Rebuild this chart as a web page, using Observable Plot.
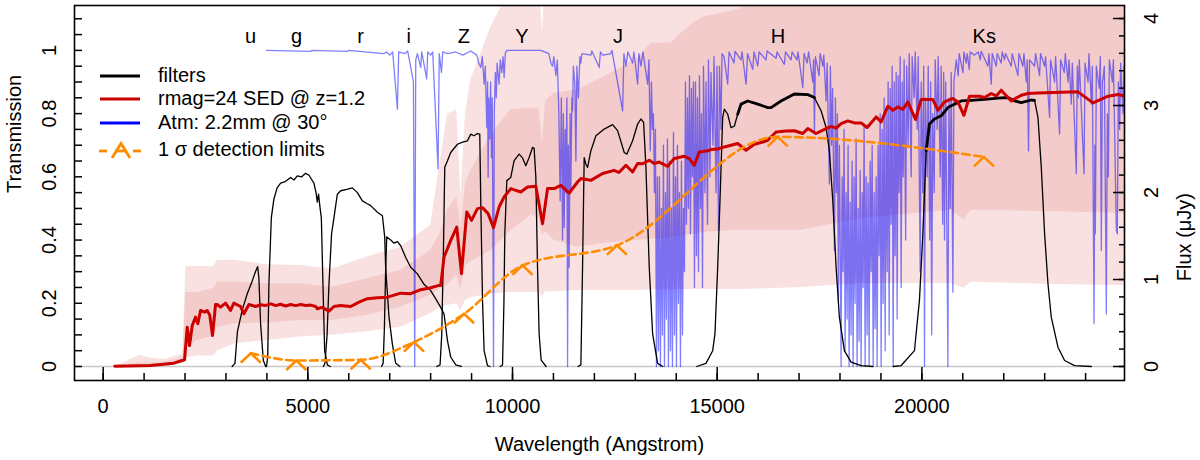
<!DOCTYPE html>
<html><head><meta charset="utf-8">
<script src="https://cdn.jsdelivr.net/npm/d3@7"></script>
<script src="https://cdn.jsdelivr.net/npm/@observablehq/plot@0.6"></script>
<style>
body{margin:0;background:#fff;font-family:"Liberation Sans",Arial,Helvetica,sans-serif;}
#wrap{position:relative;width:1200px;height:460px;overflow:hidden;}
#wrap svg{display:block;}
</style></head><body><div id="wrap"></div>
<script>
// ---------- data ----------
const filterNames = ["u","g","r","i","Z","Y","J","H","Ks"];
const labelWave = [3601,4726,6291,7465,8809,10228,12575,16487,21524];

const uFilter = [[3150,0],[3220,0.01],[3280,0.11],[3400,0.18],[3520,0.23],[3640,0.27],[3720,0.30],[3775,0.316],[3804,0.28],[3846,0.135],[3912,0.02],[3970,0]];
const gFilter = [[3990,0],[4020,0.03],[4049,0.26],[4108,0.47],[4171,0.53],[4250,0.565],[4335,0.58],[4450,0.585],[4580,0.598],[4660,0.59],[4743,0.603],[4850,0.60],[4946,0.611],[5030,0.605],[5100,0.59],[5149,0.58],[5200,0.55],[5232,0.52],[5262,0.545],[5300,0.50],[5330,0.47],[5369,0.26],[5411,0.05],[5477,0.005],[5550,0]];
const rFilter = [[5380,0],[5418,0.01],[5470,0.1],[5516,0.26],[5580,0.42],[5638,0.47],[5721,0.545],[5802,0.556],[5950,0.56],[6088,0.565],[6210,0.55],[6333,0.524],[6450,0.515],[6536,0.509],[6699,0.488],[6822,0.477],[6878,0.41],[6902,0.31],[6983,0.156],[7066,0.07],[7147,0.01],[7250,0]];
const iFilter = [[6800,0],[6840,0.01],[6870,0.12],[6900,0.30],[6927,0.41],[7025,0.40],[7105,0.39],[7188,0.395],[7269,0.382],[7391,0.345],[7513,0.314],[7677,0.293],[7839,0.26],[8002,0.24],[8125,0.214],[8247,0.187],[8328,0.166],[8369,0.124],[8411,0.082],[8491,0.03],[8614,0.005],[8750,0]];
const zFilter = [[8150,0],[8230,0.005],[8271,0.10],[8313,0.37],[8345,0.63],[8411,0.651],[8491,0.677],[8655,0.703],[8780,0.71],[8900,0.714],[8980,0.735],[9060,0.73],[9144,0.737],[9200,0.735],[9225,0.52],[9267,0.21],[9306,0.05],[9389,0.003],[9450,0]];
const yFilter = [[9700,0],[9756,0.005],[9790,0.2],[9812,0.42],[9861,0.588],[9958,0.598],[10039,0.651],[10161,0.672],[10244,0.66],[10325,0.635],[10406,0.661],[10489,0.693],[10528,0.69],[10570,0.598],[10611,0.314],[10650,0.103],[10700,0.02],[10820,0]];
const jFilter = [[11600,0],[11670,0.005],[11711,0.314],[11751,0.661],[11792,0.64],[11834,0.63],[11914,0.682],[12037,0.73],[12240,0.751],[12445,0.765],[12567,0.746],[12729,0.677],[12795,0.672],[12934,0.714],[13056,0.767],[13137,0.783],[13203,0.772],[13259,0.63],[13340,0.314],[13423,0.103],[13545,0.01],[13670,0]];
const hFilter = [[14500,0],[14726,0.01],[14890,0.05],[14946,0.104],[15012,0.314],[15068,0.524],[15134,0.788],[15174,0.814],[15257,0.798],[15337,0.756],[15418,0.76],[15501,0.798],[15582,0.83],[15746,0.84],[15990,0.83],[16235,0.819],[16315,0.819],[16560,0.84],[16885,0.862],[17213,0.86],[17374,0.851],[17538,0.809],[17660,0.756],[17741,0.682],[17824,0.524],[17905,0.314],[17985,0.156],[18107,0.05],[18271,0.014],[18516,0.003],[18800,0]];
const ksFilter = [[19300,0],[19494,0.003],[19819,0.05],[19941,0.21],[20024,0.42],[20105,0.682],[20186,0.767],[20308,0.783],[20472,0.793],[20636,0.819],[20797,0.83],[20960,0.84],[21205,0.842],[21531,0.845],[21858,0.849],[22103,0.851],[22264,0.84],[22428,0.835],[22672,0.843],[22753,0.842],[22836,0.788],[22917,0.63],[22998,0.42],[23081,0.261],[23161,0.156],[23325,0.061],[23487,0.019],[23731,0.003],[24140,0]];

// SED (wavelength in Angstrom, flux in microJansky)
const sedSpectrum = [[285,0.003],[1156,0.012],[1726,0.038],[1988,0.077],[2054,0.452],[2110,0.242],[2176,0.472],[2257,0.567],[2313,0.491],[2379,0.644],[2477,0.625],[2543,0.644],[2606,0.587],[2672,0.357],[2746,0.713],[2787,0.713],[2868,0.683],[2990,0.729],[3112,0.644],[3193,0.728],[3357,0.690],[3438,0.606],[3560,0.713],[3724,0.690],[3850,0.71],[3968,0.702],[4100,0.72],[4213,0.70],[4330,0.715],[4457,0.696],[4580,0.712],[4702,0.70],[4830,0.713],[4946,0.702],[5070,0.706],[5191,0.690],[5232,0.664],[5350,0.68],[5516,0.636],[5638,0.690],[5800,0.70],[6046,0.690],[6250,0.74],[6455,0.779],[6700,0.79],[6944,0.797],[7269,0.843],[7514,0.837],[7758,0.883],[8002,0.906],[8205,0.932],[8247,0.932],[8328,1.258],[8491,1.450],[8638,1.603],[8753,1.067],[8883,1.776],[8998,1.680],[9144,1.815],[9267,1.826],[9404,1.757],[9536,1.596],[9672,1.833],[9795,1.948],[9958,2.045],[10081,2.025],[10203,2.006],[10367,2.063],[10570,2.071],[10734,1.642],[10856,2.045],[11017,2.045],[11181,2.083],[11384,1.994],[11589,2.121],[11670,2.160],[11915,2.140],[12201,2.218],[12484,2.255],[12599,2.23],[12770,2.313],[12934,2.236],[13056,2.333],[13178,2.33],[13340,2.371],[13462,2.333],[13584,2.35],[13790,2.301],[13951,2.390],[14196,2.417],[14318,2.39],[14440,2.313],[14562,2.466],[14768,2.48],[14849,2.494],[15012,2.50],[15174,2.524],[15337,2.543],[15501,2.563],[15704,2.486],[15907,2.555],[16113,2.581],[16235,2.601],[16438,2.696],[16682,2.708],[16885,2.71],[17091,2.678],[17213,2.735],[17416,2.678],[17660,2.735],[17783,2.76],[17905,2.74],[18027,2.793],[18191,2.823],[18352,2.80],[18516,2.8],[18663,2.747],[18883,2.869],[19005,2.811],[19169,2.992],[19291,2.946],[19413,2.984],[19536,2.954],[19658,3.041],[19844,2.839],[19983,3.069],[20147,3.07],[20269,3.069],[20391,2.946],[20553,3.041],[20758,3.081],[20880,3.041],[21027,2.888],[21164,3.107],[21408,3.107],[21531,3.092],[21695,3.138],[21817,3.11],[21939,3.176],[22183,3.053],[22428,3.118],[22591,3.138],[22836,3.145],[23814,3.157],[24181,3.030],[24548,3.107],[24792,3.127],[24954,3.107],[25100,3.11]];

// SED uncertainty bands (microJansky)
const bandWave = [250,500,700,900,1100,1500,1950,2020,2300,2700,2800,3200,4000,4800,5600,6450,7270,8000,8250,8410,8640,8740,8850,8980,9470,9960,10450,10650,10730,10810,11010,11590,12240,13060,13380,13870,14120,14430,14680,15500,16000,17050,18520,20720,21030,21200,23160,25000];
const outerLo = [0,0,0,0,0.005,0.01,0.03,0.10,0.12,0.12,0.18,0.26,0.30,0.34,0.36,0.40,0.45,0.61,0.68,0.70,0.72,0.64,0.76,0.79,0.83,0.85,0.85,0.85,0.80,0.86,0.86,0.875,0.875,0.875,0.88,0.88,0.885,0.885,0.886,0.886,0.89,0.909,0.955,0.955,0.90,0.967,0.944,0.932];
const innerLo = [0,0,0,0.005,0.01,0.02,0.05,0.20,0.30,0.35,0.45,0.49,0.50,0.53,0.53,0.59,0.68,0.82,0.90,0.93,1.05,0.875,1.15,1.20,1.33,1.56,1.74,1.70,1.51,1.55,1.45,1.37,1.415,1.45,1.46,1.48,1.50,1.52,1.54,1.565,1.565,1.565,1.70,1.795,1.68,1.795,1.78,1.76];
const innerUp = [0.005,0.02,0.03,0.04,0.04,0.05,0.10,0.85,0.85,0.90,0.97,0.97,0.95,0.95,0.91,1.01,1.105,1.33,1.55,1.80,1.95,1.60,2.10,2.25,2.66,2.95,2.97,2.97,2.57,3.05,3.14,3.18,3.33,3.54,3.72,3.72,3.83,3.95,4.02,4.10,4.22,4.4,4.5,4.6,4.6,4.6,4.6,4.6];
const outerUp = [0.01,0.04,0.09,0.13,0.10,0.08,0.14,1.15,1.15,1.15,1.22,1.22,1.17,1.16,1.12,1.26,1.37,1.62,2.4,2.9,2.95,1.95,2.9,3.29,3.9,4.35,4.5,4.5,3.83,4.5,4.5,4.6,4.7,4.8,4.9,5.0,5.0,5.1,5.1,5.2,5.2,5.3,5.4,5.5,5.5,5.5,5.5,5.5];

// 1 sigma detection limits (microJansky)
const detWave = [3606,4719,6291,7594,8817,10245,12550,16479,21516];
const detFlux = [0.153,0.069,0.077,0.280,0.606,1.162,1.392,2.639,2.409];

// Atmospheric transmission
const atmSpectrum = [[3990,1.0],[5069,0.997],[5093,1.0],[5973,0.997],[5998,1.0],[6853,0.99],[6927,0.995],[7000,0.985],[7073,0.995],[7188,0.814],[7220,0.995],[7367,0.99],[7440,0.998],[7580,0.9],[7611,0.0],[7636,0.97],[7677,0.99],[7758,0.946],[7782,0.995],[7904,0.91],[7929,0.995],[8002,0.985],[8051,0.995],[8181,0.625],[8210,0.99],[8264,0.93],[8296,0.995],[8418,0.99],[8614,0.995],[8785,0.985],[8980,0.998],[9127,0.985],[9176,0.96],[9225,0.946],[9262,0.98],[9306,0.893],[9335,0.95],[9372,0.756],[9391,0.9],[9404,0.598],[9421,0.85],[9445,0.72],[9465,0.9],[9487,0.661],[9506,0.85],[9536,0.0],[9555,0.8],[9580,0.93],[9604,0.85],[9624,0.96],[9672,0.893],[9702,0.97],[9738,0.93],[9770,0.98],[9795,0.914],[9824,0.99],[9861,1.0],[10692,1.0],[10888,0.99],[10937,0.96],[10978,0.95],[11010,0.98],[11059,0.92],[11095,0.97],[11132,0.8],[11164,0.524],[11193,0.85],[11223,0.4],[11242,0.8],[11262,0.44],[11286,0.75],[11303,0.55],[11328,0.85],[11345,0.0],[11364,0.7],[11384,0.314],[11408,0.8],[11425,0.55],[11450,0.85],[11467,0.809],[11487,0.95],[11523,0.893],[11548,0.65],[11572,0.95],[11609,0.85],[11646,0.98],[11670,0.96],[11695,0.99],[11915,0.985],[11939,0.998],[12118,0.946],[12147,0.995],[12208,0.985],[12404,0.99],[12428,1.0],[12690,0.809],[12721,0.99],[12770,0.95],[12819,0.995],[12934,0.96],[12966,0.995],[13056,0.893],[13088,0.99],[13137,0.95],[13186,0.995],[13301,0.893],[13333,0.97],[13365,0.682],[13394,0.9],[13418,0.75],[13443,0.8],[13467,0.55],[13492,0.75],[13516,0.0],[13540,0.6],[13565,0.05],[13589,0.6],[13614,0.0],[13638,0.5],[13663,0.1],[13687,0.7],[13712,0.0],[13736,0.55],[13760,0.15],[13785,0.72],[13809,0.0],[13834,0.65],[13858,0.05],[13883,0.5],[13907,0.0],[13932,0.74],[13956,0.1],[13981,0.6],[14005,0.0],[14029,0.7],[14054,0.2],[14078,0.55],[14103,0.0],[14127,0.65],[14152,0.1],[14176,0.5],[14201,0.3],[14225,0.9],[14249,0.45],[14274,0.85],[14298,0.5],[14323,0.92],[14347,0.42],[14372,0.88],[14396,0.6],[14421,0.9],[14445,0.25],[14470,0.9],[14494,0.35],[14518,0.85],[14543,0.3],[14567,0.92],[14592,0.5],[14616,0.8],[14641,0.25],[14665,0.95],[14701,0.55],[14726,0.9],[14763,0.45],[14787,0.97],[14824,0.6],[14848,0.93],[14897,0.7],[14922,0.98],[14971,0.55],[14995,0.95],[15032,0.43],[15056,0.95],[15093,0.75],[15118,0.99],[15166,0.98],[15257,0.893],[15289,0.995],[15411,0.96],[15436,0.997],[15582,0.97],[15607,0.995],[15705,0.893],[15741,0.99],[15868,0.94],[15900,0.995],[15990,0.95],[16022,0.995],[16193,0.97],[16218,0.998],[16438,0.975],[16462,0.995],[16641,0.956],[16670,0.995],[16804,0.97],[16829,0.995],[16951,0.97],[16975,0.995],[17091,0.882],[17123,0.99],[17196,0.96],[17233,0.995],[17335,0.9],[17355,0.97],[17375,0.735],[17399,0.98],[17489,0.92],[17514,0.99],[17580,0.95],[17604,0.985],[17660,0.84],[17685,0.96],[17741,0.577],[17765,0.95],[17795,0.7],[17819,0.88],[17863,0.367],[17888,0.85],[17912,0.55],[17937,0.8],[17961,0.21],[17985,0.7],[18002,0.45],[18027,0.0],[18051,0.6],[18076,0.3],[18100,0.75],[18125,0.05],[18149,0.55],[18174,0.15],[18198,0.7],[18223,0.0],[18247,0.52],[18271,0.1],[18296,0.65],[18320,0.0],[18345,0.6],[18369,0.2],[18394,0.72],[18418,0.0],[18443,0.5],[18467,0.08],[18492,0.62],[18516,0.0],[18541,0.55],[18565,0.25],[18589,0.76],[18614,0.0],[18638,0.6],[18663,0.1],[18687,0.58],[18712,0.0],[18736,0.65],[18761,0.3],[18785,0.7],[18810,0.0],[18834,0.55],[18858,0.12],[18883,0.6],[18907,0.0],[18932,0.7],[18956,0.35],[18981,0.8],[19005,0.0],[19030,0.75],[19054,0.2],[19078,0.85],[19103,0.05],[19127,0.8],[19152,0.3],[19176,0.9],[19201,0.1],[19225,0.88],[19250,0.45],[19274,0.95],[19299,0.0],[19323,0.9],[19347,0.35],[19372,0.93],[19396,0.15],[19421,0.92],[19445,0.55],[19470,0.98],[19494,0.25],[19519,0.9],[19543,0.6],[19567,0.97],[19604,0.4],[19629,0.95],[19665,0.7],[19690,0.99],[19739,0.6],[19763,0.98],[19812,0.85],[19837,0.995],[19886,0.75],[19910,0.98],[19959,0.3],[19984,0.9],[20020,0.55],[20045,0.95],[20064,0.0],[20089,0.85],[20130,0.6],[20155,0.95],[20191,0.4],[20216,0.9],[20240,0.1],[20265,0.8],[20301,0.55],[20326,0.97],[20374,0.75],[20399,0.98],[20448,0.6],[20472,0.95],[20509,0.45],[20533,0.93],[20553,0.4],[20582,0.9],[20636,0.0],[20660,0.85],[20692,0.5],[20717,0.93],[20758,0.235],[20783,0.9],[20839,0.97],[20888,0.92],[20912,0.99],[21003,0.93],[21027,0.995],[21083,0.96],[21108,0.99],[21157,0.94],[21181,0.995],[21286,0.985],[21377,0.995],[21426,0.97],[21450,0.997],[21614,0.95],[21638,0.99],[21695,0.893],[21719,0.99],[21817,0.95],[21841,0.99],[21939,0.96],[21963,0.995],[22020,0.97],[22044,0.99],[22183,0.95],[22208,0.99],[22347,0.92],[22371,0.99],[22469,0.95],[22494,0.99],[22550,0.9],[22574,0.97],[22606,0.682],[22631,0.97],[22753,0.95],[22778,0.99],[22875,0.92],[22900,0.99],[22998,0.95],[23022,0.98],[23120,0.788],[23144,0.97],[23242,0.9],[23267,0.98],[23364,0.735],[23389,0.97],[23479,0.93],[23504,0.99],[23570,0.9],[23594,0.97],[23650,0.83],[23675,0.96],[23773,0.61],[23797,0.95],[23822,0.85],[23846,0.97],[23961,0.61],[23986,0.96],[24059,0.9],[24083,0.99],[24140,0.83],[24164,0.95],[24206,0.135],[24225,0.7],[24238,0.42],[24262,0.95],[24335,0.88],[24360,0.98],[24384,0.367],[24409,0.9],[24433,0.92],[24457,0.95],[24506,0.166],[24531,0.8],[24555,0.6],[24580,0.97],[24653,0.9],[24678,0.97],[24751,0.43],[24775,0.42],[24800,0.9],[24831,0.75],[24856,0.96],[24914,0.8],[24938,0.95],[24995,0.7]];

// axes
const waveTicks = [0,5000,10000,15000,20000];
const waveMinor = [0,1000,2000,3000,4000,5000,6000,7000,8000,9000,10000,11000,12000,13000,14000,15000,16000,17000,18000,19000,20000,21000,22000,23000,24000];
const transTicks = [0,0.2,0.4,0.6,0.8,1];
const transMinor = [0,0.05,0.1,0.15,0.2,0.25,0.3,0.35,0.4,0.45,0.5,0.55,0.6,0.65,0.7,0.75,0.8,0.85,0.9,0.95,1,1.05,1.1];
const fluxTicks = [0,1,2,3,4];
const fluxMinor = [0,0.2,0.4,0.6,0.8,1,1.2,1.4,1.6,1.8,2,2.2,2.4,2.6,2.8,3,3.2,3.4,3.6,3.8,4];

const legendLabels = ["filters","rmag=24 SED @ z=1.2","Atm: 2.2mm @ 30°","1 σ detection limits"];
const legendColors = ["#000000","#CD0000","#0000FF","#FF8C00"];

// ---------- build ----------
const K = 0.2752; // transmission units per microJansky (right axis)
const labelLevel = 1.024;

const filterSets = [["u",uFilter],["g",gFilter],["r",rFilter],["i",iFilter],["Z",zFilter],["Y",yFilter],["J",jFilter],["H",hFilter],["Ks",ksFilter]];
const filterRows = filterSets.flatMap(([n,pts]) => pts.map(([w,t]) => ({filter:n, wave:w, trans:t})));
const thickRows = filterRows.filter(d => (d.filter==="H" && d.wave>=15500 && d.wave<=17400) || (d.filter==="Ks" && d.wave>=20100 && d.wave<=22760));
const atmRows = atmSpectrum.map(([w,t]) => ({wave:w, trans:t}));
const sedRows = sedSpectrum.map(([w,f]) => ({wave:w, flux:f}));
const bandRows = bandWave.map((w,i) => ({wave:w, oLo:outerLo[i], iLo:innerLo[i], iUp:innerUp[i], oUp:outerUp[i]}));
const detRows = detWave.map((w,i) => ({wave:w, flux:detFlux[i]}));
const labelRows = filterNames.map((n,i) => ({name:n, wave:labelWave[i]}));

const chevron = {draw(ctx, size){ const s = Math.sqrt(size/Math.PI); ctx.moveTo(-s, s*0.95); ctx.lineTo(0,0); ctx.lineTo(s, s*0.95);} };

const chart = Plot.plot({
  width:1200, height:460,
  marginLeft:74, marginRight:76, marginTop:5, marginBottom:80,
  x:{domain:[-700,24950], axis:null},
  y:{domain:[-0.0443,1.142], axis:null},
  style:{fontFamily:"'Liberation Sans', Arial, Helvetica, sans-serif", fontSize:"20px", background:"white", color:"black"},
  marks:[
    Plot.areaY(bandRows, {x:"wave", y1:d=>d.oLo*K, y2:d=>d.oUp*K, fill:"#FAE1E1", clip:true}),
    Plot.areaY(bandRows, {x:"wave", y1:d=>d.iLo*K, y2:d=>d.iUp*K, fill:"#F4CBCB", clip:true}),
    Plot.ruleY([0], {stroke:"#c8c8c8", strokeWidth:1.5}),
    Plot.line(atmRows, {x:"wave", y:"trans", stroke:"#0000FF", strokeOpacity:0.5, strokeWidth:1.3, clip:true}),
    Plot.line(filterRows, {x:"wave", y:"trans", z:"filter", stroke:"black", strokeWidth:1.3, clip:true}),
    Plot.line(thickRows, {x:"wave", y:"trans", z:"filter", stroke:"black", strokeWidth:2.8, clip:true}),
    Plot.line(sedRows, {x:"wave", y:d=>d.flux*K, stroke:"#CD0000", strokeWidth:3, clip:true}),
    Plot.line(detRows, {x:"wave", y:d=>d.flux*K, stroke:"#FF8C00", strokeWidth:2.6, strokeDasharray:"7.5,4.5", curve:"monotone-x"}),
    Plot.dot(detRows, {x:"wave", y:d=>d.flux*K, symbol:chevron, r:10, fill:"none", stroke:"#FF8C00", strokeWidth:2.6}),
    Plot.text(labelRows, {x:"wave", y:()=>labelLevel, text:"name", fontSize:20, lineAnchor:"bottom"}),
    // bottom axis
    Plot.axisX(waveMinor, {anchor:"bottom", tickSize:7, dy:-7, fill:"none", strokeWidth:1.5, label:null}),
    Plot.axisX(waveTicks, {anchor:"bottom", tickSize:13, dy:-13, fill:"none", strokeWidth:1.5, label:null}),
    Plot.axisX(waveTicks, {anchor:"bottom", tickSize:0, tickPadding:18.5, fontSize:20, tickFormat:d=>String(d), label:null}),
    // left axis
    Plot.axisY(transMinor, {anchor:"left", tickSize:8, dx:8, fill:"none", strokeWidth:1.5, label:null}),
    Plot.axisY(transTicks, {anchor:"left", tickSize:0, tickPadding:19, tickRotate:-90, fontSize:20, tickFormat:d=>String(d), label:null}),
    // right axis (flux)
    Plot.axisY(fluxMinor.map(f=>f*K), {anchor:"right", tickSize:6, dx:-6, fill:"none", strokeWidth:1.5, label:null}),
    Plot.axisY(fluxTicks.map(f=>f*K), {anchor:"right", tickSize:12, dx:-12, fill:"none", strokeWidth:1.5, label:null}),
    Plot.axisY(fluxTicks.map(f=>f*K), {anchor:"right", tickSize:0, tickPadding:33, tickRotate:-90, fontSize:20, tickFormat:t=>String(Math.round(t/K)), label:null}),
    // titles
    Plot.text(["Wavelength (Angstrom)"], {frameAnchor:"bottom", dy:70, lineAnchor:"bottom", fontSize:20, text:d=>d}),
    Plot.text(["Transmission"], {frameAnchor:"left", dx:-54, rotate:-90, lineAnchor:"bottom", fontSize:20, text:d=>d}),
    Plot.text(["Flux (μJy)"], {frameAnchor:"right", dx:66, rotate:-90, lineAnchor:"bottom", fontSize:20, text:d=>d}),
    Plot.frame({stroke:"black", strokeWidth:1.6})
  ]
});
const wrap = document.getElementById("wrap");
wrap.appendChild(chart);

// legend overlay
const lineY = [76, 99, 123, 151];
const textY = [82, 105, 129, 156];
const leg = d3.select(wrap).append("svg")
  .attr("width", 420).attr("height", 175)
  .style("position","absolute").style("left","0px").style("top","0px")
  .style("font-family","'Liberation Sans', Arial, Helvetica, sans-serif").style("font-size","20px");
legendLabels.forEach((lab, i) => {
  if (i < 3) {
    leg.append("line").attr("x1",100).attr("x2",140).attr("y1",lineY[i]).attr("y2",lineY[i])
      .attr("stroke",legendColors[i]).attr("stroke-width",3.2);
  } else {
    leg.append("line").attr("x1",99).attr("x2",107).attr("y1",lineY[i]).attr("y2",lineY[i]).attr("stroke",legendColors[i]).attr("stroke-width",2.8);
    leg.append("line").attr("x1",133).attr("x2",141).attr("y1",lineY[i]).attr("y2",lineY[i]).attr("stroke",legendColors[i]).attr("stroke-width",2.8);
    leg.append("path").attr("d",`M112,${lineY[i]+7} L121,${lineY[i]-7.5} L130,${lineY[i]+7}`).attr("fill","none").attr("stroke",legendColors[i]).attr("stroke-width",2.8);
    leg.append("line").attr("x1",115).attr("x2",127).attr("y1",lineY[i]).attr("y2",lineY[i]).attr("stroke",legendColors[i]).attr("stroke-width",2.8);
  }
  leg.append("text").attr("x",158).attr("y",textY[i]).attr("fill","black").text(lab);
});
</script></body></html>
